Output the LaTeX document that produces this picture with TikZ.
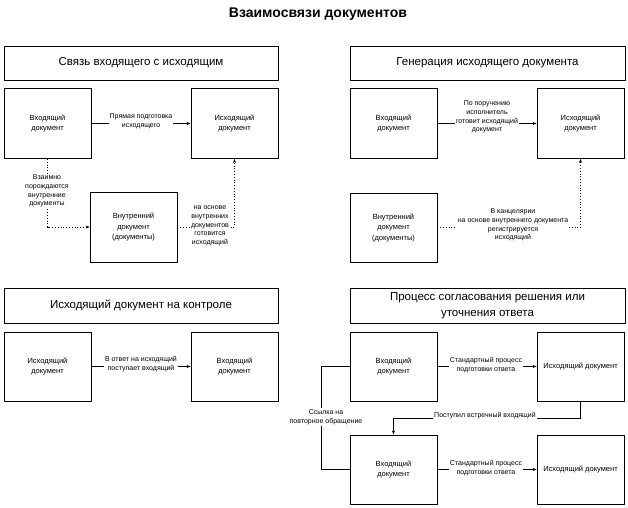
\documentclass[tikz,border=0pt]{standalone}
\usepackage{fontspec}
\setmainfont{Liberation Sans}
\usetikzlibrary{arrows.meta}
\begin{document}
\begin{tikzpicture}[x=1pt,y=-1pt,
  box/.style={draw, line width=0.8pt, minimum width=87pt, minimum height=70pt, inner sep=1pt, align=center, font=\fontsize{7.5}{10.5}\selectfont},
  head/.style={draw, line width=0.8pt, minimum width=274pt, minimum height=34pt, align=center, font=\fontsize{11.5}{16}\selectfont},
  lbl/.style={fill=white, inner sep=1pt, align=center, font=\fontsize{7}{8.8}\selectfont},
  arr/.style={line width=0.7pt, -{Stealth[length=4pt,width=3pt]}},
  dotline/.style={line width=0.9pt, dash pattern=on 1pt off 1.8pt},
  plain/.style={line width=0.7pt}]
\useasboundingbox (0,0) rectangle (628,507);
\node[font=\bfseries\fontsize{14}{16}\selectfont] (title) at (318,14) {Взаимосвязи документов};

% Panel 1
\node[head] (h1) at (141,63) {Связь входящего с исходящим};
\node[box] (in1) at (47.5,123.5) {Входящий\\документ};
\node[box] (out1) at (234.5,123.5) {Исходящий\\документ};
\node[box] (int1) at (133.5,227) {Внутренний\\документ\\(документы)};
\draw[arr] (in1.east) -- (out1.west);
\node[lbl] (l1) at (141,121) {Прямая подготовка\\исходящего};
\draw[arr, dotline] (in1.south) |- (int1.west);
\node[lbl] (l2) at (47,191) {Взаимно\\порождаются\\внутренние\\документы};
\draw[arr, dotline] (int1.east) -| (out1.south);
\node[lbl] (l3) at (210,226) {на основе\\внутренних\\документов\\готовится\\исходящий};

% Panel 2
\node[head, minimum width=275pt] (h2) at (487.5,63) {Генерация исходящего документа};
\node[box] (in2) at (393.5,123.5) {Входящий\\документ};
\node[box] (out2) at (580.5,123.5) {Исходящий\\документ};
\node[box, minimum height=69pt] (int2) at (393.5,227.5) {Внутренний\\документ\\(документы)};
\draw[arr] (in2.east) -- (out2.west);
\node[lbl] (l4) at (487,117) {По поручению\\исполнитель\\готовит исходящий\\документ};
\draw[arr, dotline] (int2.east) -| (out2.south);
\node[lbl] (l5) at (513,225) {В канцелярии\\на основе внутреннего документа\\регистрируется\\исходящий};

% Panel 3
\node[head, minimum height=35pt] (h3) at (141,305.5) {Исходящий документ на контроле};
\node[box, minimum height=69pt] (out3) at (47.5,366.5) {Исходящий\\документ};
\node[box, minimum height=69pt] (in3) at (234.5,366.5) {Входящий\\документ};
\draw[arr] (out3.east) -- (in3.west);
\node[lbl] (l6) at (141,364) {В ответ на исходящий\\поступает входящий};

% Panel 4
\node[head, minimum width=275pt, minimum height=35pt] (h4) at (487.5,305.5) {Процесс согласования решения или\\уточнения ответа};
\node[box, minimum height=69pt] (in4a) at (393.5,366.5) {Входящий\\документ};
\node[box, minimum height=69pt] (out4a) at (580.5,366.5) {Исходящий документ};
\node[box, minimum height=69pt] (in4b) at (393.5,469.5) {Входящий\\документ};
\node[box, minimum height=69pt] (out4b) at (580.5,469.5) {Исходящий документ};
\draw[arr] (in4a.east) -- (out4a.west);
\node[lbl] (l7) at (486,365) {Стандартный процесс\\подготовки ответа};
\draw[arr] (in4b.east) -- (out4b.west);
\node[lbl] (l8) at (486,468) {Стандартный процесс\\подготовки ответа};
\draw[arr] (out4a.south) -- ++(0,16.5) -| (in4b.north);
\node[lbl] (l9) at (485,416) {Поступил встречный входящий};
\draw[plain] (in4a.west) -- ++(-28,0) |- (in4b.west);
\node[lbl] (l10) at (326,417) {Ссылка на\\повторное обращение};
\end{tikzpicture}
\end{document}
